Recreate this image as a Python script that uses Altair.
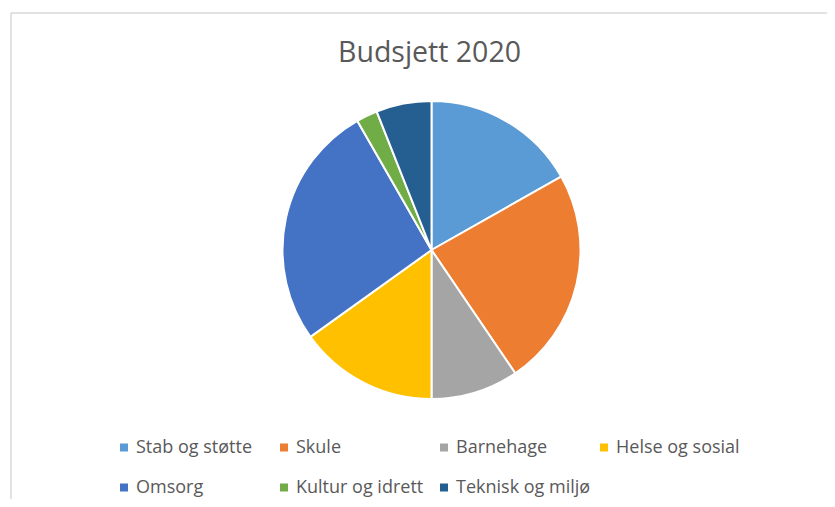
import altair as alt
import pandas as pd

categories = ["Stab og støtte", "Skule", "Barnehage", "Helse og sosial",
              "Omsorg", "Kultur og idrett", "Teknisk og miljø"]
shares = [16.8, 23.7, 9.5, 15.1, 26.6, 2.3, 6.0]
colors = ["#5B9BD5", "#ED7D31", "#A5A5A5", "#FFC000",
          "#4472C4", "#70AD47", "#255E91"]

df = pd.DataFrame({"kategori": categories, "andel": shares,
                   "rekkefolge": list(range(len(categories)))})
one = pd.DataFrame({"k": [0]})

W, H = 816, 486
FONT = "Open Sans"
GREY = "#595959"

pie = alt.Chart(df).mark_arc(outerRadius=149, stroke="white", strokeWidth=2).encode(
    theta=alt.Theta("andel:Q", stack=True),
    order=alt.Order("rekkefolge:Q"),
    color=alt.Color(
        "kategori:N",
        scale=alt.Scale(domain=categories, range=colors),
        sort=categories,
        legend=alt.Legend(
            title=None, orient="none", legendX=104, legendY=425.5,
            direction="horizontal", columns=4, gridAlign="all",
            symbolType="square", symbolSize=64, symbolStrokeWidth=0,
            labelFontSize=18, labelFont=FONT, labelColor=GREY,
            labelOffset=3, columnPadding=4, rowPadding=22, padding=0,
            labelLimit=300,
        ),
    ),
    x=alt.value(420.5),
    y=alt.value(237),
)

frame_top = alt.Chart(one).mark_rule(color="#D9D9D9", strokeWidth=1.5).encode(
    x=alt.value(0), x2=alt.value(W), y=alt.value(0)
)
frame_left = alt.Chart(one).mark_rule(color="#D9D9D9", strokeWidth=1.5).encode(
    x=alt.value(0), y=alt.value(0), y2=alt.value(H)
)

chart = alt.layer(frame_top, frame_left, pie).properties(
    width=W, height=H,
    title=alt.TitleParams(
        "Budsjett 2020", font=FONT, fontSize=28.5, fontWeight="normal",
        color=GREY, anchor="middle", frame="group", offset=0,
        baseline="alphabetic", dy=78.5, dx=10.5,
    ),
    padding={"left": 3, "top": 5, "right": 0, "bottom": 0},
    autosize=alt.AutoSizeParams(type="none"),
).configure_view(stroke=None)

chart.save("out.html", embed_options={"renderer": "svg", "actions": False})
